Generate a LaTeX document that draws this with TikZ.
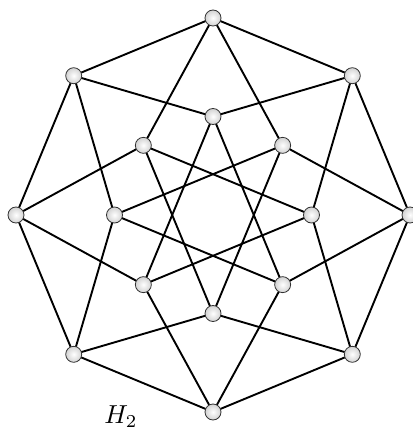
\documentclass[tikz,border=0pt]{standalone}
\usetikzlibrary{calc,backgrounds}
\begin{document}
\begin{tikzpicture}[x=1pt,y=-1pt,
  vtx/.style={circle,draw=black!80,line width=0.8pt,inner sep=0pt,minimum size=16pt,
    shading=radial,inner color=white,outer color=gray!35},
  edge/.style={line width=1.9pt,black}]
\useasboundingbox (0,0) rectangle (412,433);
\coordinate (c) at (213,215);
\foreach \i in {0,...,7} {
  \node[vtx] (o\i) at ($(c)+({45*\i}:{197} and {-197})$) {};
  \node[vtx] (n\i) at ($(c)+({45*\i}:{98.5} and {-98.5})$) {};
}
\begin{scope}[on background layer]
\foreach \i in {0,...,7} {
  \pgfmathtruncatemacro{\nx}{mod(\i+1,8)}
  \pgfmathtruncatemacro{\pv}{mod(\i+7,8)}
  \pgfmathtruncatemacro{\st}{mod(\i+3,8)}
  \draw[edge] (o\i.center) -- (o\nx.center);
  \draw[edge] (o\i.center) -- (n\nx.center);
  \draw[edge] (o\i.center) -- (n\pv.center);
  \draw[edge] (n\i.center) -- (n\st.center);
}
\end{scope}
\node[inner sep=0pt] (lbl) at (121,417) {\scalebox{2.6}{$H_2$}};
\end{tikzpicture}
\end{document}
